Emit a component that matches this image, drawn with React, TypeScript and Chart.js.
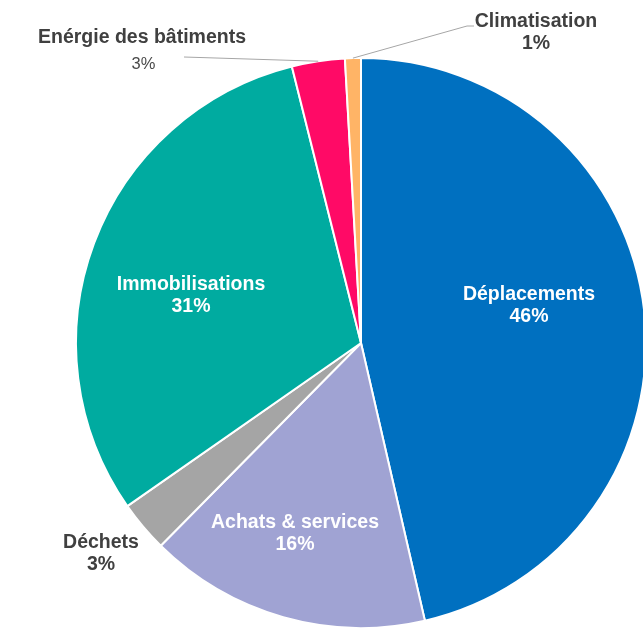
import React, { useEffect, useRef } from "react";
import { Chart, registerables } from "chart.js";

Chart.register(...registerables);

// ---- data ----
const categories = [
  "Déplacements",
  "Achats & services",
  "Déchets",
  "Immobilisations",
  "Enérgie des bâtiments",
  "Climatisation",
];
const values = [46.4, 16.0, 2.9, 30.8, 3.0, 0.9];
const colors = ["#0070C0", "#A0A3D3", "#A5A5A5", "#00ABA0", "#FF0A66", "#FFB466"];

// ---- label layout (style), offsets in px relative to the pie centre ----
type LabelStyle = {
  dx: number;
  dy: number;
  color: string;
  gap?: number;
  pctDx?: number;
  pctFont?: string;
  pctColor?: string;
  leader?: number[][];
};
const labelLayout: LabelStyle[] = [
  { dx: 168, dy: -43, color: "#FFFFFF" },
  { dx: -66, dy: 185, color: "#FFFFFF" },
  { dx: -260, dy: 205, color: "#404040" },
  { dx: -170, dy: -53, color: "#FFFFFF" },
  {
    dx: -219,
    dy: -300,
    color: "#404040",
    gap: 26,
    pctDx: 1.5,
    pctFont: "normal 16.5px 'Liberation Sans', Arial, sans-serif",
    pctColor: "#4A4A4A",
    leader: [[-177, -286]],
  },
  { dx: 175, dy: -316, color: "#404040", leader: [[106, -317], [113, -317]] },
];
const BOLD = "bold 19.5px 'Liberation Sans', Arial, sans-serif";

const labelPlugin = {
  id: "sliceLabels",
  afterDatasetsDraw(chart: any) {
    const ctx: CanvasRenderingContext2D = chart.ctx;
    const meta = chart.getDatasetMeta(0);
    const total = values.reduce((a, b) => a + b, 0);
    ctx.save();
    meta.data.forEach((arc: any, i: number) => {
      const { x, y, startAngle, endAngle, outerRadius } = arc.getProps(
        ["x", "y", "startAngle", "endAngle", "outerRadius"],
        true
      );
      const L = labelLayout[i];
      if (L.leader) {
        const mid = (startAngle + endAngle) / 2;
        ctx.beginPath();
        ctx.moveTo(x + Math.cos(mid) * outerRadius, y + Math.sin(mid) * outerRadius);
        L.leader.forEach(([lx, ly]) => ctx.lineTo(x + lx, y + ly));
        ctx.strokeStyle = "#A6A6A6";
        ctx.lineWidth = 1;
        ctx.stroke();
      }
      ctx.textAlign = "center";
      ctx.textBaseline = "alphabetic";
      ctx.font = BOLD;
      ctx.fillStyle = L.color;
      ctx.fillText(categories[i], x + L.dx, y + L.dy);
      const pct = Math.round((values[i] / total) * 100) + "%";
      ctx.font = L.pctFont || BOLD;
      ctx.fillStyle = L.pctColor || L.color;
      ctx.fillText(pct, x + L.dx + (L.pctDx || 0), y + L.dy + (L.gap || 22));
    });
    ctx.restore();
  },
};

export default function App() {
  const ref = useRef<HTMLCanvasElement | null>(null);
  useEffect(() => {
    if (!ref.current) return;
    const chart = new Chart(ref.current, {
      type: "pie",
      data: {
        labels: categories,
        datasets: [
          {
            data: values,
            backgroundColor: colors,
            borderColor: "#FFFFFF",
            borderWidth: 2,
          },
        ],
      },
      options: {
        responsive: false,
        animation: false,
        layout: { padding: 57 },
        plugins: {
          legend: { display: false },
          tooltip: { enabled: false },
        },
      },
      plugins: [labelPlugin],
    });
    return () => chart.destroy();
  }, []);
  return (
    <div
      style={{
        position: "absolute",
        left: 0,
        top: 0,
        width: 643,
        height: 630,
        overflow: "hidden",
        background: "#FFFFFF",
      }}
    >
      <canvas ref={ref} width={722} height={686} style={{ width: 722, height: 686, display: "block" }} />
    </div>
  );
}
